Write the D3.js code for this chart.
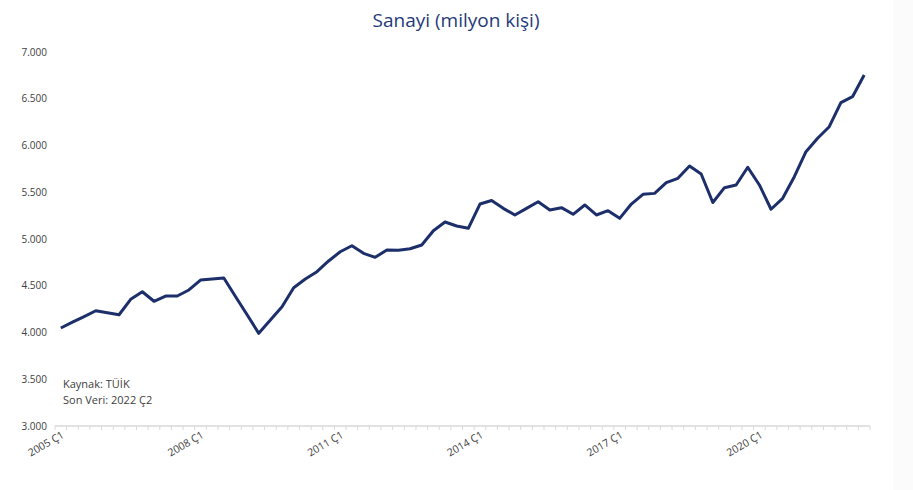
<!DOCTYPE html>
<html>
<head>
<meta charset="utf-8">
<script src="https://cdn.jsdelivr.net/npm/d3@7"></script>
<style>
  body { margin: 0; background: #fff; }
  #chart { width: 913px; height: 490px; }
  svg { overflow: visible; }
  text { font-family: "Open Sans", "Noto Sans", sans-serif; }
</style>
</head>
<body>
<div id="chart"></div>
<script>
// quarterly categories 2005 Ç1 .. 2022 Ç2
var years = d3.range(2005, 2023);
var quarters = [];
years.forEach(function(y){
    for (var q = 1; q <= 4; q++) {
        if (y == 2022 && q > 2) break;
        quarters.push(y + " Ç" + q);
    }
});

// sanayi istihdamı (bin kişi)
var sanayi = [
    4048, 4110, 4170, 4233, 4212, 4190, 4355, 4436, 4334, 4390, 4390, 4455,
    4561, 4572, 4583, 4385, 4190, 3991, 4134, 4276, 4479, 4572, 4650, 4765,
    4864, 4928, 4847, 4804, 4882, 4879, 4896, 4936, 5089, 5182, 5139, 5114,
    5374, 5412, 5328, 5257, 5328, 5399, 5310, 5335, 5264, 5364, 5257, 5303,
    5221, 5374, 5478, 5488, 5602, 5649, 5781, 5695, 5390, 5549, 5578, 5767,
    5578, 5318, 5435, 5666, 5934, 6077, 6201, 6458, 6522, 6754
];

var xTickLabels = ["2005 Ç1", "2008 Ç1", "2011 Ç1", "2014 Ç1", "2017 Ç1", "2020 Ç1"];
var yTicks = [3000, 3500, 4000, 4500, 5000, 5500, 6000, 6500, 7000];

var data = quarters.map(function(q, i){ return {q: q, v: sanayi[i]}; });

const width = 913, height = 490;
const margin = {top: 52, right: 43, bottom: 64, left: 55};
var innerWidth = width - margin.left - margin.right;
var innerHeight = height - margin.top - margin.bottom;

var trFormat = d3.formatLocale({decimal: ",", thousands: ".", grouping: [3], currency: ["", "₺"]}).format(",.0f");

var svg = d3.select("#chart").append("svg")
    .attr("width", width)
    .attr("height", height);

// faint strip on the right edge of the screenshot
svg.append("rect")
    .attr("x", 893).attr("y", 0)
    .attr("width", 20).attr("height", height)
    .attr("fill", "#fbfbfb");

svg.append("text")
    .attr("x", 456)
    .attr("y", 27)
    .attr("text-anchor", "middle")
    .style("font-size", "19px")
    .style("fill", "#1f3a7a")
    .text("Sanayi (milyon kişi)");

var xScale = d3.scalePoint()
    .domain(quarters)
    .range([0, innerWidth])
    .padding(0.5);

var yScale = d3.scaleLinear()
    .domain([3000, 7000])
    .range([innerHeight, 0]);

var g = svg.append("g")
    .attr("transform", "translate(" + margin.left + "," + margin.top + ")");

// y labels only, no axis line
var yAxis = d3.axisLeft(yScale)
    .tickValues(yTicks)
    .tickFormat(trFormat)
    .tickSize(0)
    .tickPadding(8);

var yG = g.append("g").call(yAxis);
yG.select(".domain").remove();
yG.selectAll("text")
    .style("font-family", "'Open Sans', sans-serif")
    .style("font-size", "10px")
    .style("fill", "#404040");

// x axis
var xG = g.append("g")
    .attr("transform", "translate(0," + innerHeight + ")");

xG.append("line")
    .attr("x1", 0).attr("x2", innerWidth)
    .attr("y1", 0).attr("y2", 0)
    .attr("stroke", "#d9d9d9")
    .attr("stroke-width", 1.5);

var step = xScale.step();
xG.selectAll(".qtick")
    .data(d3.range(quarters.length + 1))
    .enter()
    .append("line")
    .attr("class", "qtick")
    .attr("x1", d => d * step)
    .attr("x2", d => d * step)
    .attr("y1", 0)
    .attr("y2", 4)
    .attr("stroke", "#d9d9d9")
    .attr("stroke-width", 1);

xG.selectAll(".xlab")
    .data(xTickLabels)
    .enter()
    .append("text")
    .attr("class", "xlab")
    .attr("text-anchor", "end")
    .attr("transform", d => "translate(" + (xScale(d) + 4) + ",11) rotate(-30)")
    .style("font-size", "10.5px")
    .style("fill", "#404040")
    .text(d => d);

var line = d3.line()
    .x(d => xScale(d.q))
    .y(d => yScale(d.v));

g.append("path")
    .datum(data)
    .attr("fill", "none")
    .attr("stroke", "#1c2f6a")
    .attr("stroke-width", 3)
    .attr("stroke-linejoin", "round")
    .attr("d", line);

// kaynak notu
g.append("text")
    .attr("x", 8)
    .attr("y", 336)
    .style("font-size", "11px")
    .style("fill", "#404040")
    .text("Kaynak: TÜİK");

g.append("text")
    .attr("x", 8)
    .attr("y", 352)
    .style("font-size", "11px")
    .style("fill", "#404040")
    .text("Son Veri: 2022 Ç2");
</script>
</body>
</html>
